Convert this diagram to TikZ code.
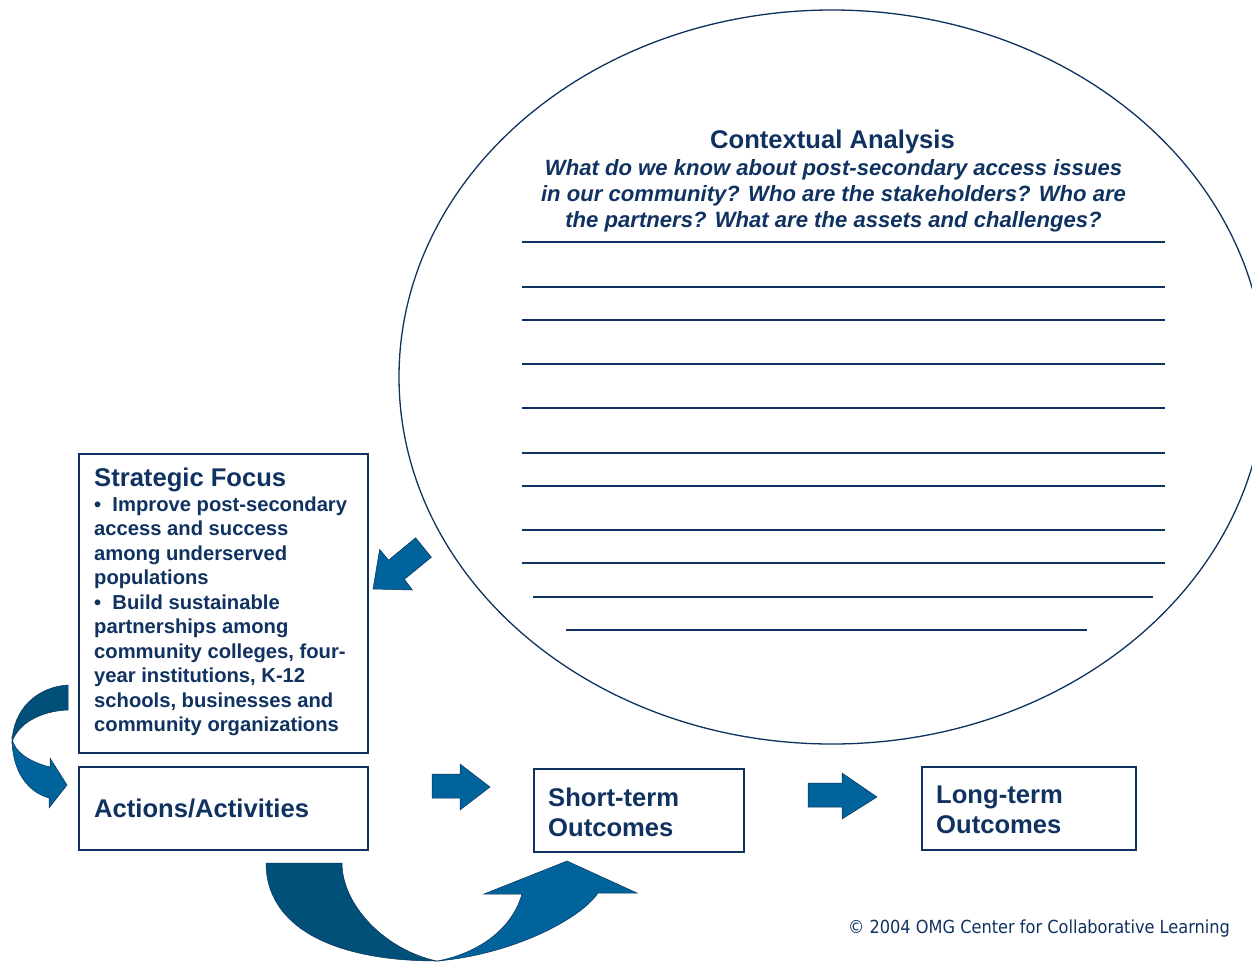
\documentclass[tikz,border=0pt]{standalone}
\usepackage{fontspec}
\setmainfont{Liberation Sans}
\newfontfamily\cpfont{DejaVu Sans Condensed}
\definecolor{navy}{RGB}{16,50,96}
\definecolor{arrdark}{RGB}{0,80,122}
\definecolor{arrlight}{RGB}{0,99,155}
\definecolor{arredge}{RGB}{10,50,90}
\tikzset{
  box/.style={draw=navy, line width=1.6pt, fill=white, anchor=north west, inner sep=0pt},
  big/.style={font=\bfseries\fontsize{25.6}{30}\selectfont, text=navy, inner sep=0pt},
  small/.style={font=\bfseries\fontsize{20.2}{24.5}\selectfont, text=navy, inner sep=0pt},
  ques/.style={font=\bfseries\itshape\fontsize{22.1}{26.2}\selectfont, text=navy, inner sep=0pt},
  rule/.style={draw=navy, line width=1.1pt},
  arrdk/.style={fill=arrdark, draw=arredge, line width=0.5pt},
  arrlt/.style={fill=arrlight, draw=arredge, line width=0.5pt},
}
\begin{document}
\begin{tikzpicture}[x=1pt,y=-1pt]
\useasboundingbox (0,0) rectangle (1252,961);
\clip (0,0) rectangle (1252,961);
\fill[white] (0,0) rectangle (1252,961);

% ellipse
\draw[navy, line width=1.3pt] (832,377) ellipse [x radius=433, y radius=367];

% writing lines
\foreach \yy in {242,287,320,364,408,453,486,530,563}
  \draw[rule] (522,\yy) -- (1165,\yy);
\draw[rule] (533,597) -- (1153,597);
\draw[rule] (566,630) -- (1087,630);

% contextual text
\node[big, anchor=base] (ctitle) at (832.5,148) {Contextual Analysis};
\node[ques, anchor=base] (cques) at (833.5,175) {\parbox[t]{700pt}{\centering
What do we know about post-secondary access issues\\
in our community? Who are the stakeholders? Who are\\
the partners? What are the assets and challenges?}};

% boxes
\node[box, minimum width=289pt, minimum height=299pt] (sf) at (78,453) {};
\node[box, minimum width=289pt, minimum height=83pt] (act) at (78,766) {};
\node[box, minimum width=210pt, minimum height=83pt] (st) at (533,768) {};
\node[box, minimum width=214pt, minimum height=83pt] (lt) at (921,766) {};

\node[big, anchor=base west] (sftitle) at (94,486) {Strategic Focus};
\node[small, anchor=base west] (sfbody) at (94,511) {\parbox[t]{280pt}{\raggedright
\textbullet\ \ Improve post-secondary\\
access and success\\
among underserved\\
populations\\
\textbullet\ \ Build sustainable\\
partnerships among\\
community colleges, four-\\
year institutions, K-12\\
schools, businesses and\\
community organizations}};

\node[big, anchor=base west] (acttext) at (94,817) {Actions/Activities};
\node[big, anchor=base west] (sttext) at (548,806) {\parbox[t]{190pt}{Short-term\\Outcomes}};
\node[big, anchor=base west] (lttext) at (936,803) {\parbox[t]{190pt}{Long-term\\Outcomes}};

% diagonal arrow
\draw[arrlt] (415.6,537.8) -- (431.4,557.2) -- (404.4,579.3) -- (412.4,590) -- (373,589)
  -- (379.6,549.4) -- (388.6,560.1) -- cycle;

% straight block arrows
\draw[arrlt] (432,774) -- (460,774) -- (460,764) -- (490,787) -- (460,810) -- (460,798) -- (432,798) -- cycle;
\draw[arrlt] (808,783) -- (842,783) -- (842,773) -- (877,797) -- (842,819) -- (842,807) -- (808,807) -- cycle;

% left curved arrow
\draw[arrdk] (68,685) .. controls (36,687) and (13,710) .. (12,742)
  .. controls (18,724) and (40,711) .. (68,710) -- cycle;
\draw[arrlt] (12,738) .. controls (12,772) and (28,792) .. (49,798) -- (49,808) -- (67,785)
  -- (50,758) -- (50,767) .. controls (30,762) and (14,752) .. (12,738) -- cycle;

% bottom curved arrow
\draw[arrdk] (266,863) .. controls (266,925) and (330,961) .. (437,961)
  .. controls (385,950) and (342,905) .. (342,863) -- cycle;
\draw[arrlt] (437,961) .. controls (510,955) and (580,920) .. (598,893) -- (637,893) -- (567,861)
  -- (484,894) -- (522,894) .. controls (510,935) and (470,955) .. (437,961) -- cycle;

% copyright
\node[anchor=base west, inner sep=0pt, text=navy, font={\cpfont\fontsize{18}{20}\selectfont}] (copy) at (848,933) {© 2004 OMG Center for Collaborative Learning};
\end{tikzpicture}
\end{document}
